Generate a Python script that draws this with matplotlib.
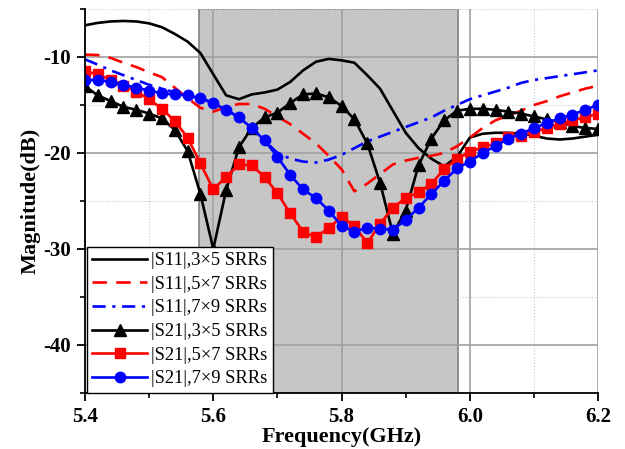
import numpy as np
import matplotlib.pyplot as plt

plt.rcParams['font.family'] = ['Liberation Serif', 'DejaVu Serif']
plt.rcParams['axes.unicode_minus'] = False

# frequency points (GHz), one every 0.02 GHz
freq = np.round(np.arange(5.40, 6.2001, 0.02), 2)

s11_3x5 = [-6.7, -6.45, -6.3, -6.25, -6.3, -6.5, -6.9, -7.6, -8.4, -9.6,
           -11.8, -14.0, -14.4, -13.9, -13.7, -13.4, -12.6, -11.4, -10.5, -10.2,
           -10.35, -10.6, -11.9, -13.3, -15.6, -17.9, -19.5, -20.6, -21.4, -20.4,
           -18.4, -18.0, -17.9, -17.9, -18.0, -18.2, -18.5, -18.6, -18.5, -18.3,
           -18.1]
s11_5x7 = [-9.75, -9.8, -10.1, -10.6, -11.05, -11.6, -12.1, -13.2, -14.3, -15.3,
           -15.7, -15.2, -14.9, -14.9, -15.4, -16.2, -17.0, -18.0, -19.0, -20.3,
           -21.7, -24.0, -23.2, -22.2, -21.2, -20.8, -20.5, -20.3, -20.0, -19.3,
           -18.4, -17.4, -16.6, -16.1, -15.6, -15.0, -14.6, -14.1, -13.7, -13.3,
           -13.0]
s11_7x9 = [-10.25, -10.8, -11.4, -11.9, -12.4, -12.9, -13.3, -13.7, -14.0, -14.3,
           -14.8, -15.5, -16.3, -17.4, -18.7, -20.0, -20.6, -20.9, -21.0, -20.7,
           -20.2, -19.5, -18.8, -18.3, -17.8, -17.3, -16.8, -16.3, -15.6, -15.0,
           -14.4, -14.0, -13.6, -13.2, -12.7, -12.4, -12.2, -12.0, -11.8, -11.6,
           -11.4]
s21_3x5 = [-13.05, -14.0, -14.6, -15.2, -15.5, -15.9, -16.4, -17.6, -19.8, -24.3,
           -30.0, -23.9, -19.4, -17.4, -16.3, -15.8, -14.8, -13.9, -13.8, -14.2,
           -15.1, -16.5, -19.0, -23.1, -28.4, -26.0, -21.3, -18.5, -16.6, -15.6,
           -15.4, -15.4, -15.5, -15.7, -15.9, -16.2, -16.5, -16.8, -17.2, -17.4,
           -17.5]
s21_5x7 = [-11.5, -11.8, -12.4, -13.0, -13.6, -14.4, -15.4, -16.7, -18.4, -21.1,
           -23.8, -22.5, -21.2, -21.3, -22.5, -24.2, -26.3, -28.2, -28.8, -27.8,
           -26.7, -27.6, -29.4, -27.4, -25.7, -24.7, -24.1, -23.2, -21.7, -20.6,
           -19.9, -19.4, -19.0, -18.3, -18.2, -17.8, -17.4, -17.0, -16.6, -16.3,
           -15.9]
s21_7x9 = [-12.4, -12.4, -12.6, -12.9, -13.2, -13.5, -13.8, -13.9, -14.0, -14.3,
           -14.8, -15.5, -16.3, -17.4, -18.7, -20.4, -22.3, -23.8, -24.7, -26.0,
           -27.6, -28.2, -27.8, -27.9, -28.0, -27.0, -25.7, -24.3, -22.9, -21.6,
           -20.9, -20.0, -19.3, -18.5, -18.0, -17.4, -16.9, -16.4, -16.0, -15.5,
           -15.0]

# shaded band (GHz)
band = (5.577, 5.982)

fig = plt.figure(figsize=(6.25, 4.49), dpi=100)
ax = fig.add_axes([0.136, 0.125, 0.821, 0.855])

ax.axvspan(band[0], band[1], facecolor='#c6c6c6', edgecolor='#808080', lw=1.2, zorder=0.3)

lw = 1.9
ax.plot(freq, s11_3x5, color='black', lw=lw, label='|S11|,3×5 SRRs')
ax.plot(freq, s11_5x7, color='red', lw=lw, dashes=(5.5, 3.5), label='|S11|,5×7 SRRs')
ax.plot(freq, s11_7x9, color='blue', lw=lw, dashes=(5, 2.5, 1.2, 2.5), label='|S11|,7×9 SRRs')
ax.plot(freq, s21_3x5, color='black', lw=lw, marker='^', ms=8, label='|S21|,3×5 SRRs')
ax.plot(freq, s21_5x7, color='red', lw=lw, marker='s', ms=7, label='|S21|,5×7 SRRs')
ax.plot(freq, s21_7x9, color='blue', lw=lw, marker='o', ms=7.5, label='|S21|,7×9 SRRs')

ax.set_xlim(5.4, 6.2)
ax.set_ylim(-45, -5)
ax.set_xticks([5.4, 5.6, 5.8, 6.0, 6.2])
ax.set_xticks([5.5, 5.7, 5.9, 6.1], minor=True)
ax.set_yticks([-40, -30, -20, -10])
ax.set_yticks([-45, -35, -25, -15, -5], minor=True)
ax.set_xticklabels(['5.4', '5.6', '5.8', '6.0', '6.2'])

ax.set_axisbelow(True)
ax.grid(which='major', color='#a0a0a0', lw=1.2)
ax.grid(which='minor', color='#c8c8c8', lw=0.8, linestyle=':')

for s in ['top', 'right']:
    ax.spines[s].set_visible(False)
for s in ['left', 'bottom']:
    ax.spines[s].set_linewidth(1.3)

ax.tick_params(which='major', direction='out', length=6, width=1.3, labelsize=15, pad=4)
ax.tick_params(which='minor', direction='out', length=3.5, width=1.2)
for t in ax.get_xticklabels() + ax.get_yticklabels():
    t.set_fontweight('bold')

ax.set_xlabel('Frequency(GHz)', fontsize=16, fontweight='bold', labelpad=0)
ax.set_ylabel('Magnitude(dB)', fontsize=16, fontweight='bold', labelpad=2)

leg = ax.legend(loc='lower left', bbox_to_anchor=(0.003, 0.0), borderaxespad=0,
                fontsize=13.3, fancybox=False, edgecolor='black', framealpha=1,
                handlelength=3.0, labelspacing=0.36, borderpad=0.3, handletextpad=0.2)
leg.get_frame().set_linewidth(1.0)

plt.savefig('out.png', dpi=100)
